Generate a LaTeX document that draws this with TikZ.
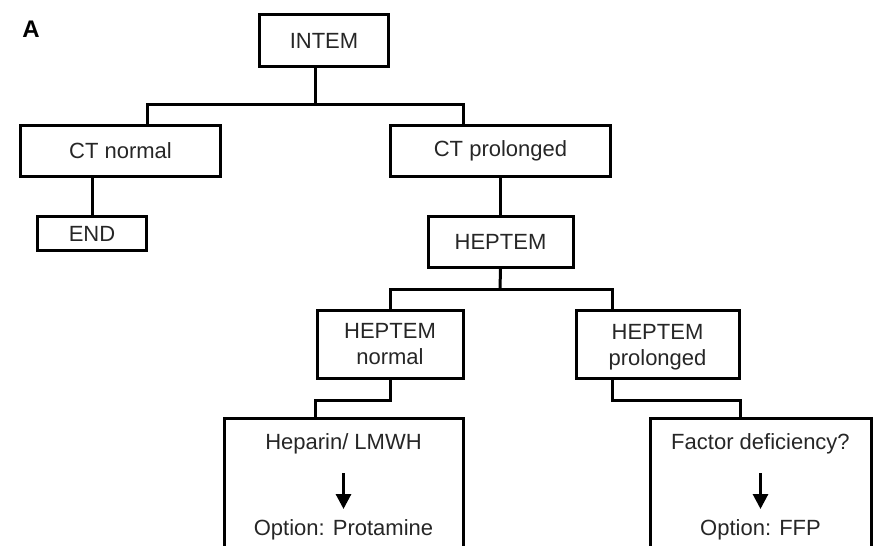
\documentclass[tikz,border=0pt]{standalone}
\usepackage{fontspec}
\setmainfont{Liberation Sans}
\usepackage{tikz}
\usetikzlibrary{arrows.meta,positioning}

\begin{document}
\begin{tikzpicture}[
    x=1pt, y=-1pt,
    font=\fontsize{22}{26}\selectfont,
    box/.style={draw, line width=3pt, inner sep=0pt, align=center, text=black!85},
    txt/.style={inner sep=0pt, outer sep=0pt, text height=16pt, text depth=5pt, text=black!85},
    link/.style={line width=3pt},
    arrow/.style={line width=3pt, -{Triangle[length=15pt,width=15pt]}}
]
    \useasboundingbox (0,0) rectangle (873,546);
    \clip (0,0) rectangle (873,546);

    \node[font=\fontsize{24}{28}\selectfont\bfseries] (lbl) at (31,29) {A};

    \node[box, minimum width=129pt, minimum height=52pt] (intem) at (324,40.5) {INTEM};
    \node[box, minimum width=200pt, minimum height=51pt] (ctn) at (120.5,151) {CT normal};
    \node[box, minimum width=220pt, minimum height=51pt] (ctp) at (500.5,151) {CT prolonged};
    \node[box, minimum width=109pt, minimum height=34pt, below=37pt of ctn, xshift=-28.5pt] (endn) {END};
    \node[box, minimum width=145pt, minimum height=51pt, below=37pt of ctp] (hep) {HEPTEM};
    \node[box, minimum width=146pt, minimum height=68pt, below=40pt of hep, xshift=-110.5pt] (hepn) {HEPTEM\\normal};
    \node[box, minimum width=163pt, minimum height=68pt, text depth=0pt, below=40pt of hep, xshift=157pt] (hepp) {HEPTEM\\prolonged};
    \node[box, minimum width=239pt, minimum height=200pt, below=37pt of hepn, xshift=-46.5pt] (hepbox) {};
    \node[box, minimum width=221pt, minimum height=200pt, below=37pt of hepp, xshift=103pt] (facbox) {};

    % contents of the two open boxes
    \node[txt, below=16pt of hepbox.north] (hepl) {Heparin/ LMWH};
    \node[txt, below=65pt of hepl] (hopt) {Option: Protamine};
    \node[txt, below=16pt of facbox.north] (facl) {Factor deficiency?};
    \node[txt, below=65pt of facl] (fopt) {Option: FFP};

    \draw[arrow, shorten <=19pt, shorten >=10pt] (hepl) -- (hopt);
    \draw[arrow, shorten <=19pt, shorten >=10pt] (facl) -- (fopt);

    % tree lines
    \coordinate (b1) at (315,104);
    \coordinate (b1l) at (147,104);
    \coordinate (b1r) at (463,104);
    \coordinate (b2) at (500,289);
    \coordinate (b2r) at (612,289);
    \coordinate (b3) at (315,400);
    \coordinate (b4) at (612,400);
    \coordinate (b4r) at (740,400);

    \draw[link] (intem.south -| b1) -- (b1);
    \draw[link] (ctn.north -| b1l) -- (b1l) -- (b1r) -- (ctp.north -| b1r);
    \draw[link] (ctn.south -| endn.north) -- (endn.north);
    \draw[link] (ctp.south -| hep.north) -- (hep.north);
    \draw[link] (hep.south) -- (b2);
    \draw[link] (hepn.north) -- (hepn.north |- b2) -- (b2r) -- (hepp.north -| b2r);
    \draw[link] (hepn.south) -- (hepn.south |- b3) -- (b3) -- (hepbox.north -| b3);
    \draw[link] (hepp.south -| b4) -- (b4) -- (b4r) -- (facbox.north -| b4r);
\end{tikzpicture}
\end{document}
